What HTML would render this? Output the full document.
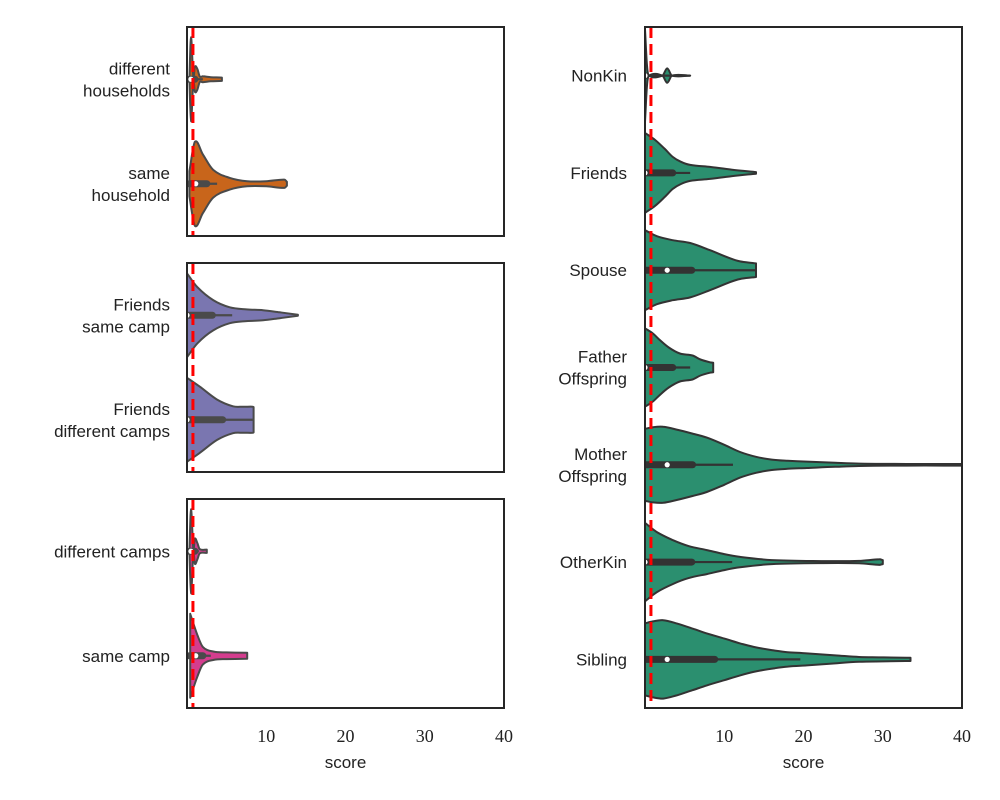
<!DOCTYPE html>
<html><head><meta charset="utf-8"><style>
body{margin:0;background:#fff}
svg{display:block}
.lbl{font-family:"Liberation Sans",sans-serif;font-size:17px;fill:#222}
.tick{font-family:"Liberation Serif",serif;font-size:18px;fill:#222}
</style></head><body>
<svg id="chart" width="1000" height="800" viewBox="0 0 1000 800" xmlns="http://www.w3.org/2000/svg"></svg>
<script>
// ---- data ----
const xTicks = [10, 20, 30, 40];
const refLine = 0.75;
// left panels
const catsTop = ["different\nhouseholds", "same\nhousehold"];
const catsMid = ["Friends\nsame camp", "Friends\ndifferent camps"];
const catsBot = ["different camps", "same camp"];
const diffHouseS = [0.3,0.5,0.8,1.0,1.3,1.6,2,3,4.4];
const diffHouseD = [0,1,0.07,0.3,0.25,0.07,0.07,0.05,0.04];
const sameHouseS = [0.3,1,2,3.3,5.4,7.6,10,12.3,12.6];
const sameHouseD = [0.3,1,0.7,0.33,0.14,0.06,0.06,0.1,0.05];
const friendsSameS = [0,1.3,3.3,5.4,7.5,9.6,11.7,14];
const friendsSameD = [1,0.67,0.36,0.19,0.14,0.12,0.07,0.01];
const friendsDiffS = [0,1.6,3.8,5.8,7,8.3,8.4];
const friendsDiffD = [1,0.79,0.48,0.32,0.31,0.31,0.3];
const diffCampsS = [0.3,0.5,0.8,1.0,1.3,1.6,2.5];
const diffCampsD = [0,1,0.07,0.3,0.2,0.05,0.04];
const sameCampS = [0.4,1.3,2,3.3,5,7.6];
const sameCampD = [1,0.5,0.21,0.1,0.08,0.07];
// right panel
const kinCats = ["NonKin","Friends","Spouse","Father\nOffspring","Mother\nOffspring","OtherKin","Sibling"];
const nonKinS = [0,0.25,0.5,2.2,2.8,3.4,5.7];
const nonKinD = [1.15,0.25,0,0,0.18,0,0];
const friendsS = [0,1.3,2.5,3.5,4.5,5.7,8.2,11,14];
const friendsD = [1,0.82,0.6,0.4,0.28,0.2,0.15,0.08,0.02];
const spouseS = [0,1.5,3.5,5.7,8.2,10.7,12,13.6,14];
const spouseD = [1,0.85,0.75,0.68,0.5,0.3,0.22,0.18,0.17];
const fatherS = [0,1,1.9,3,4.4,6,7,8.2,8.6];
const fatherD = [0.98,0.85,0.68,0.5,0.35,0.3,0.2,0.13,0.12];
const motherS = [0,1,2.3,4,6,7.8,10,12,14,16,18,20.4,24,27,33,40];
const motherD = [0.9,0.94,0.95,0.88,0.78,0.68,0.5,0.32,0.2,0.13,0.1,0.08,0.05,0.03,0.02,0.02];
const otherKinS = [0,1.5,3.5,5.5,7.8,10,12,16,22.5,27,29.6,30];
const otherKinD = [0.98,0.75,0.55,0.4,0.3,0.2,0.13,0.05,0.025,0.03,0.07,0.05];
const siblingS = [0,1,2.3,4,6,7.8,10,12,14,16.4,18,20.4,24,27,30,33,33.5];
const siblingD = [0.9,0.95,0.98,0.9,0.77,0.65,0.52,0.4,0.3,0.22,0.18,0.15,0.1,0.06,0.05,0.04,0.04];
// boxes: q1, q3, median, whisker end
const boxesLeft = [[0.3,1,0.5,2],[0.3,2.5,1.1,3.8],[0,3.2,0,5.7],[0,4.5,0,8.3],[0.3,1,0.5,1.5],[0.3,2,1.1,3]];
const boxesRight = [[0,0,0,5.7],[0,3.5,0,5.7],[0,5.9,2.8,14],[0,3.5,0,5.7],[0,6,2.8,11.1],[0,5.9,0,11],[0,8.8,2.8,19.6]];

// ---- drawing ----
const svg = document.getElementById('chart');
const NS = 'http://www.w3.org/2000/svg';
function mk(tag, attrs, parent){const e=document.createElementNS(NS,tag);for(const k in attrs)e.setAttribute(k,attrs[k]);(parent||svg).appendChild(e);return e;}
function smooth(pts){ // monotone-ish cubic through points (x increasing)
  let d = '';
  for(let i=0;i<pts.length-1;i++){
    const p0=pts[Math.max(i-1,0)],p1=pts[i],p2=pts[i+1],p3=pts[Math.min(i+2,pts.length-1)];
    const dx=p2[0]-p1[0];
    const s1=(p2[1]-p0[1])/((p2[0]-p0[0])||1), s2=(p3[1]-p1[1])/((p3[0]-p1[0])||1);
    const c1=[p1[0]+dx/3,p1[1]+s1*dx/3], c2=[p2[0]-dx/3,p2[1]-s2*dx/3];
    d += ' C'+c1[0].toFixed(1)+','+c1[1].toFixed(1)+' '+c2[0].toFixed(1)+','+c2[1].toFixed(1)+' '+p2[0].toFixed(1)+','+p2[1].toFixed(1);
  }
  return d;
}

function makePanel(id, x0, x1, y0, y1, cats, profiles, boxes, colors, H, edge, labelRight, showTicks){
  const sx = v => x0 + (v/40)*(x1-x0);
  const n = cats.length, step = (y1-y0)/n;
  const cy = i => y0 + step*(i+0.5);
  const g = mk('g',{});  
  const cp = mk('clipPath',{id:'clip-'+id}, g); mk('rect',{x:x0,y:y0,width:x1-x0,height:y1-y0},cp);
  const plot = mk('g',{'clip-path':'url(#clip-'+id+')'}, g);
  profiles.forEach((p,i)=>{
    const [S,D] = p; const c = cy(i);
    const up = S.map((s,k)=>[sx(s),c-D[k]*H]);
    const lo = S.map((s,k)=>[sx(s),c+D[k]*H]);
    // lower edge reversed: smooth in x order then reverse segments by building from reversed points
    const loR = lo.slice().reverse();
    let dPath = 'M'+up[0][0].toFixed(1)+','+up[0][1].toFixed(1)+smooth(up)+' L'+loR[0][0].toFixed(1)+','+loR[0][1].toFixed(1)+smoothRev(loR)+' Z';
    const v = mk('path',{d:dPath,fill:colors[i],stroke:edge,'stroke-width':2,'stroke-linejoin':'round'},plot);
    
    
    const b = boxes[i];
    const w = mk('line',{x1:sx(0),x2:sx(b[3]),y1:c,y2:c,stroke:edge,'stroke-width':2.2},plot);
     
    const bx = mk('line',{x1:sx(b[0]),x2:sx(b[1]),y1:c,y2:c,stroke:edge,'stroke-width':7,'stroke-linecap':'round'},plot);
     
    const m = mk('circle',{cx:sx(b[2]),cy:c,r:2.6,fill:'#fff'},plot);
     
    const lines = cats[i].split('\n');
    const t = mk('text',{class:'lbl','text-anchor':'end',x:labelRight,y:c - (lines.length-1)*11 + 6},g);
     
    lines.forEach((ln,k)=>{const ts=mk('tspan',{x:labelRight,dy:k?22:0},t);ts.textContent=ln;});
  });
  const rl = mk('line',{x1:sx(refLine),x2:sx(refLine),y1:y0,y2:y1,stroke:'#ff0000','stroke-width':3,'stroke-dasharray':'11,6'},g);
   
  const fr = mk('rect',{x:x0,y:y0,width:x1-x0,height:y1-y0,fill:'none',stroke:'#262626','stroke-width':2},g);
   
  if(showTicks){
    xTicks.forEach(tv=>{
      const t = mk('text',{class:'tick','text-anchor':'middle',x:sx(tv),y:y1+34},g);
      t.textContent = tv;
       
    });
    const xl = mk('text',{class:'lbl','text-anchor':'middle',x:(x0+x1)/2,y:y1+60},g);
    xl.textContent='score';
     
  }
}
function smoothRev(pts){ // points with decreasing x
  let d='';
  for(let i=0;i<pts.length-1;i++){
    const p0=pts[Math.max(i-1,0)],p1=pts[i],p2=pts[i+1],p3=pts[Math.min(i+2,pts.length-1)];
    const dx=p2[0]-p1[0];
    const s1=(p2[1]-p0[1])/((p2[0]-p0[0])||-1), s2=(p3[1]-p1[1])/((p3[0]-p1[0])||-1);
    const c1=[p1[0]+dx/3,p1[1]+s1*dx/3], c2=[p2[0]-dx/3,p2[1]-s2*dx/3];
    d += ' C'+c1[0].toFixed(1)+','+c1[1].toFixed(1)+' '+c2[0].toFixed(1)+','+c2[1].toFixed(1)+' '+p2[0].toFixed(1)+','+p2[1].toFixed(1);
  }
  return d;
}
const edgeL = '#4a4a4a', edgeR = '#333';
makePanel('panel-household',187,504,27,236,catsTop,[[diffHouseS,diffHouseD],[sameHouseS,sameHouseD]],boxesLeft.slice(0,2),['#c8651b','#c8651b'],42,edgeL,170,false);
makePanel('panel-friends',187,504,263,472,catsMid,[[friendsSameS,friendsSameD],[friendsDiffS,friendsDiffD]],boxesLeft.slice(2,4),['#7a76b0','#7a76b0'],42,edgeL,170,false);
makePanel('panel-camp',187,504,499,708,catsBot,[[diffCampsS,diffCampsD],[sameCampS,sameCampD]],boxesLeft.slice(4,6),['#d43d8e','#d43d8e'],42,edgeL,170,true);
const teal = '#2b8f6f';
makePanel('panel-kin',645,962,27,708,kinCats,[[nonKinS,nonKinD],[friendsS,friendsD],[spouseS,spouseD],[fatherS,fatherD],[motherS,motherD],[otherKinS,otherKinD],[siblingS,siblingD]],boxesRight,Array(7).fill(teal),40,edgeR,627,true);
</script>
</body></html>
